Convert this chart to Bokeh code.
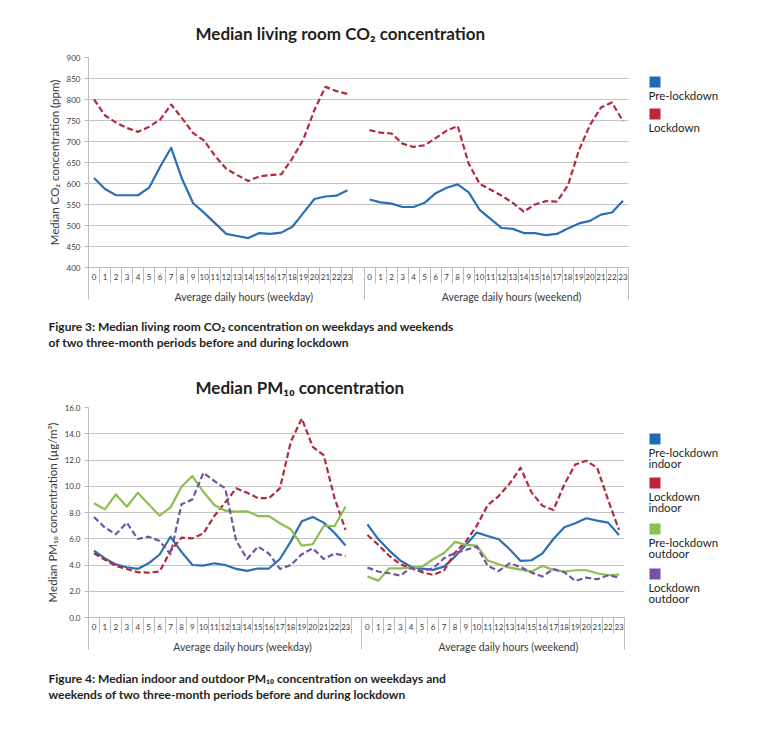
import math
from bokeh.plotting import figure
from bokeh.models import (Range1d, FixedTicker, LinearAxis, Label, BoxAnnotation,
                          PrintfTickFormatter, Title)
from bokeh.layouts import column
from bokeh.embed import file_html
from bokeh.resources import INLINE

# ---------------- data ----------------
HOURS = list(range(24))
GROUP_LABELS = ["Average daily hours (weekday)", "Average daily hours (weekend)"]

co2_pre_weekday = [613, 587, 572, 572, 572, 590, 640, 685, 610, 553, 530, 505,
                   480, 475, 470, 482, 480, 483, 497, 530, 563, 569, 571, 584]
co2_lock_weekday = [800, 762, 745, 732, 723, 735, 752, 788, 755, 720, 702, 665,
                    635, 620, 606, 617, 620, 622, 660, 705, 775, 830, 820, 813]
co2_pre_weekend = [562, 555, 552, 544, 544, 554, 577, 590, 598, 579, 537, 515,
                   494, 492, 482, 482, 477, 480, 493, 505, 511, 526, 531, 559]
co2_lock_weekend = [727, 721, 719, 695, 687, 691, 708, 726, 737, 647, 599, 585,
                    571, 554, 533, 550, 558, 557, 595, 679, 739, 781, 793, 748]

pm_pre_in_weekday = [5.1, 4.5, 4.05, 3.83, 3.7, 4.13, 4.8, 6.15, 5.0, 4.0, 3.95, 4.13,
                     4.0, 3.7, 3.55, 3.73, 3.73, 4.46, 5.8, 7.33, 7.66, 7.23, 6.44, 5.48]
pm_lock_in_weekday = [4.9, 4.4, 3.93, 3.7, 3.45, 3.42, 3.5, 5.07, 6.08, 6.03, 6.4, 7.73,
                      8.77, 9.84, 9.5, 9.1, 9.1, 9.84, 13.4, 15.16, 13.0, 12.37, 9.08, 6.67]
pm_pre_out_weekday = [8.7, 8.24, 9.38, 8.44, 9.5, 8.62, 7.76, 8.39, 9.96, 10.78, 9.58, 8.57,
                      8.14, 8.06, 8.09, 7.73, 7.73, 7.18, 6.72, 5.48, 5.58, 6.97, 6.97, 8.44]
pm_lock_out_weekday = [7.66, 6.85, 6.34, 7.23, 5.98, 6.16, 5.83, 4.82, 8.62, 9.0, 11.03, 10.4,
                       9.84, 5.86, 4.46, 5.4, 4.87, 3.7, 4.0, 4.82, 5.27, 4.46, 4.87, 4.69]
pm_pre_in_weekend = [7.1, 5.96, 5.1, 4.34, 3.85, 3.73, 3.63, 3.88, 4.64, 5.53, 6.47, 6.21,
                     5.96, 5.2, 4.31, 4.36, 4.89, 5.98, 6.87, 7.18, 7.56, 7.38, 7.23, 6.29]
pm_lock_in_weekend = [6.29, 5.53, 4.69, 4.06, 3.75, 3.45, 3.25, 3.58, 4.94, 5.78, 7.0, 8.57,
                      9.25, 10.2, 11.41, 9.53, 8.52, 8.19, 10.14, 11.66, 11.94, 11.41, 8.95, 6.67]
pm_pre_out_weekend = [3.12, 2.81, 3.75, 3.75, 3.8, 3.88, 4.44, 4.92, 5.76, 5.53, 5.48, 4.34,
                      4.06, 3.8, 3.65, 3.5, 3.93, 3.63, 3.5, 3.6, 3.6, 3.37, 3.22, 3.27]
pm_lock_out_weekend = [3.8, 3.5, 3.37, 3.19, 3.8, 3.55, 3.75, 4.51, 4.92, 5.15, 5.4, 3.93,
                       3.55, 4.13, 3.85, 3.42, 3.12, 3.7, 3.45, 2.79, 3.04, 2.92, 3.22, 3.04]

co2_ticks = list(range(400, 901, 50))
pm_ticks = list(range(0, 17, 2))

BLUE = "#2A6FB6"
RED = "#B32A3C"
GREEN = "#8DBE50"
PURPLE = "#7254A4"
SQ_BLUE = "#1F6BB5"
SQ_RED = "#C0233A"
SQ_GREEN = "#8CC152"
SQ_PURPLE = "#7353A5"
GRID = "#C4C4C4"
AXIS = "#BDBDBD"
TXT = "#3A3A3A"
DARK = "#231F20"
FONT = "Lato"
WEEKEND_SHIFT = 25
N_SLOTS = 49          # 24 weekday + 1 gap + 24 weekend
FRAME_W = 762 - 88    # frame also hosts the legend on the right


def build(title, ylabel, y0, y1, yticks, yfmt, series, legend, caption,
          data_w, frame_h, b_top, b_bottom, title_standoff, cap_standoff):
    slot = data_w / N_SLOTS
    x_end = -0.5 + FRAME_W / slot
    data_bounds = (-0.5, N_SLOTS - 0.5)
    p = figure(frame_width=FRAME_W, frame_height=frame_h,
               min_border_left=88, min_border_right=0,
               min_border_top=b_top, min_border_bottom=b_bottom,
               x_range=Range1d(-0.5, x_end), y_range=Range1d(y0, y1),
               output_backend="svg", toolbar_location=None)
    p.outline_line_color = None
    p.background_fill_color = "white"
    p.border_fill_color = "white"
    p.xgrid.grid_line_color = None
    p.ygrid.grid_line_color = GRID
    p.ygrid.grid_line_width = 1.2
    p.ygrid.ticker = FixedTicker(ticks=yticks)
    p.ygrid.cross_bounds = data_bounds

    ya = p.yaxis[0]
    ya.ticker = FixedTicker(ticks=yticks, minor_ticks=[])
    if yfmt:
        ya.formatter = PrintfTickFormatter(format=yfmt)
    ya.axis_line_color = AXIS
    ya.major_tick_line_color = AXIS
    ya.major_tick_out = 4
    ya.major_tick_in = 0
    ya.minor_tick_line_color = None
    ya.major_label_text_font = FONT
    ya.major_label_text_font_size = "8px"
    ya.major_label_text_color = TXT
    ya.major_label_standoff = 4
    ya.axis_label = ylabel
    ya.axis_label_text_font = FONT
    ya.axis_label_text_font_size = "11.5px"
    ya.axis_label_text_font_style = "normal"
    ya.axis_label_text_color = TXT
    ya.axis_label_standoff = 3

    xs_wd = HOURS
    xs_we = [h + WEEKEND_SHIFT for h in HOURS]
    overrides = {}
    for h in HOURS:
        overrides[h] = str(h)
        overrides[h + WEEKEND_SHIFT] = str(h)
    seps = [h - 0.5 for h in range(25)] + [h + WEEKEND_SHIFT - 0.5 for h in range(25)]
    xa = p.xaxis[0]
    xa.bounds = data_bounds
    xa.ticker = FixedTicker(ticks=xs_wd + xs_we, minor_ticks=seps)
    xa.major_label_overrides = overrides
    xa.axis_line_color = AXIS
    xa.major_tick_line_color = None
    xa.major_tick_out = 0
    xa.major_tick_in = 0
    xa.minor_tick_line_color = AXIS
    xa.minor_tick_out = 16
    xa.minor_tick_in = 0
    xa.major_label_text_font = FONT
    xa.major_label_text_font_size = "8px"
    xa.major_label_text_color = TXT
    xa.major_label_standoff = -10

    ga = LinearAxis(ticker=FixedTicker(ticks=[13.6, 37.9],
                                       minor_ticks=[-0.5, 24.5, 48.5]))
    ga.bounds = data_bounds
    ga.major_label_overrides = {13.6: GROUP_LABELS[0], 37.9: GROUP_LABELS[1]}
    ga.axis_line_color = None
    ga.major_tick_line_color = None
    ga.major_tick_out = 0
    ga.major_tick_in = 0
    ga.minor_tick_line_color = AXIS
    ga.minor_tick_out = 17
    ga.minor_tick_in = 0
    ga.major_label_text_font = FONT
    ga.major_label_text_font_size = "10.5px"
    ga.major_label_text_color = TXT
    ga.major_label_standoff = -9
    p.add_layout(ga, "below")

    for wd, we, color, dash in series:
        for xs, ys in ((xs_wd, wd), (xs_we, we)):
            p.line(xs, ys, line_color=color, line_width=2.2, line_dash=dash,
                   line_join="round")

    p.add_layout(Title(text=title, text_font=FONT, text_font_style="bold",
                       text_font_size="17px", text_color=DARK, align="left",
                       offset=107, standoff=title_standoff), "above")
    p.add_layout(Title(text="\n".join(caption), text_font=FONT, text_font_style="bold",
                       text_font_size="12px", text_color=DARK, align="left",
                       text_line_height=1.05, offset=-40, standoff=cap_standoff), "below")

    # legend (square above its label), inside the extended frame
    for (sq_top, color, lines) in legend:
        p.add_layout(BoxAnnotation(left=561, right=572, top=sq_top, bottom=sq_top - 11,
                                   left_units="screen", right_units="screen",
                                   top_units="screen", bottom_units="screen",
                                   fill_color=color, fill_alpha=1.0, line_color=None))
        for i, t in enumerate(lines):
            p.add_layout(Label(x=560, y=sq_top - 18.5 - 11.8 * i, x_units="screen",
                               y_units="screen", text=t, text_font=FONT,
                               text_font_size="11.5px", text_color=DARK,
                               text_align="left", text_baseline="middle"))
    return p


p1 = build("Median living room CO\u2082 concentration",
           "Median CO\u2082 concentration (ppm)",
           400, 900, co2_ticks, None,
           [(co2_pre_weekday, co2_pre_weekend, BLUE, "solid"),
            (co2_lock_weekday, co2_lock_weekend, RED, "6 3")],
           [(191, SQ_BLUE, ["Pre-lockdown"]), (159, SQ_RED, ["Lockdown"])],
           ["Figure 3: Median living room CO\u2082 concentration on weekdays and weekends",
            "of two three-month periods before and during lockdown"],
           540, 210, 57, 97, 27, 23)

p2 = build("Median PM\u2081\u2080 concentration",
           "Median PM\u2081\u2080 concentration (\u00b5g/m\u00b3)",
           0, 16, pm_ticks, "%.1f",
           [(pm_pre_in_weekday, pm_pre_in_weekend, BLUE, "solid"),
            (pm_lock_in_weekday, pm_lock_in_weekend, RED, "6 3"),
            (pm_pre_out_weekday, pm_pre_out_weekend, GREEN, "solid"),
            (pm_lock_out_weekday, pm_lock_out_weekend, PURPLE, "6 3")],
           [(184, SQ_BLUE, ["Pre-lockdown", "indoor"]),
            (140, SQ_RED, ["Lockdown", "indoor"]),
            (94, SQ_GREEN, ["Pre-lockdown", "outdoor"]),
            (49, SQ_PURPLE, ["Lockdown", "outdoor"])],
           ["Figure 4: Median indoor and outdoor PM\u2081\u2080 concentration on weekdays and",
            "weekends of two three-month periods before and during lockdown"],
           536, 210, 43, 100, 20, 26)

layout = column(p1, p2, spacing=0)
open("out.html", "w").write(file_html(layout, INLINE))
